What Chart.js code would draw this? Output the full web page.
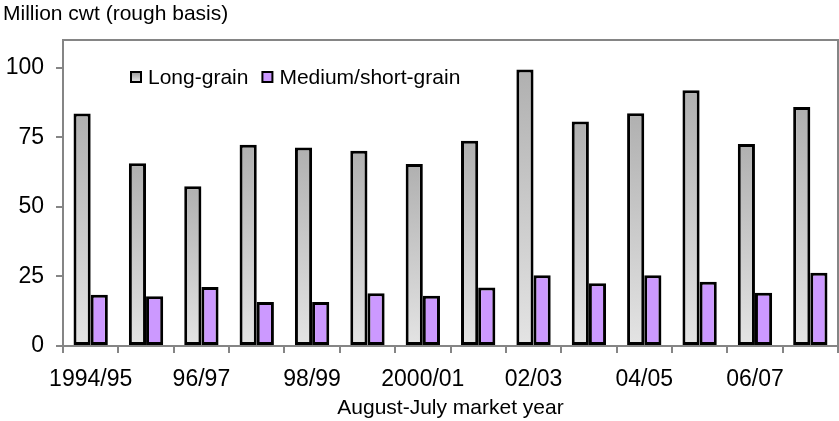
<!DOCTYPE html>
<html lang="en">
<head>
    <meta charset="UTF-8">
    <title>Rice use by class</title>
    <script src="https://cdn.jsdelivr.net/npm/chart.js"></script>
    <style>
        body { margin: 0; background: #fff; }
        canvas { display: block; }
    </style>
</head>
<body>

    <canvas id="riceChart" width="839" height="421"></canvas>

    <script>
        // Chart Data
        const years = ['1994/95', '95/96', '96/97', '97/98', '98/99', '99/2000', '2000/01',
                       '01/02', '02/03', '03/04', '04/05', '05/06', '06/07', '07/08'];
        const longGrain = [83.6, 65.7, 57.4, 72.3, 71.4, 70.2, 65.4, 73.8, 99.4, 80.7, 83.7, 91.9, 72.6, 85.9];
        const mediumGrain = [18.4, 17.9, 21.2, 15.8, 15.8, 19.0, 18.1, 21.0, 25.4, 22.6, 25.4, 23.1, 19.1, 26.3];
        const yTicks = [0, 25, 50, 75, 100];

        const font = 'Liberation Sans, Arial, sans-serif';
        const axisGray = '#858585';

        // gray gradient per bar, darker at the top
        function grayFill(c) {
            const chart = c.chart;
            const area = chart.chartArea;
            if (!area || !c.parsed) return '#c8c8c8';
            const top = chart.scales.y.getPixelForValue(c.parsed.y);
            const g = chart.ctx.createLinearGradient(0, top, 0, area.bottom);
            g.addColorStop(0, '#b0b0b0');
            g.addColorStop(1, '#e4e4e4');
            return g;
        }

        // frame, title and legend drawn on the canvas
        const extras = {
            id: 'extras',
            beforeDatasetsDraw(chart) {
                const { ctx, chartArea: a } = chart;
                ctx.save();
                ctx.strokeStyle = axisGray;
                ctx.lineWidth = 2;
                ctx.strokeRect(a.left, a.top, a.right - a.left, a.bottom - a.top);
                ctx.restore();
            },
            afterDraw(chart) {
                const { ctx } = chart;
                ctx.save();
                ctx.fillStyle = '#000';
                ctx.font = '21px ' + font;
                ctx.textBaseline = 'middle';
                ctx.textAlign = 'left';
                ctx.fillText('Million cwt (rough basis)', 3, 14);

                // legend
                let x = 131;
                const y = 77;
                chart.data.datasets.forEach((ds, i) => {
                    if (i === 0) {
                        const g = ctx.createLinearGradient(0, y - 5, 0, y + 6);
                        g.addColorStop(0, '#999');
                        g.addColorStop(1, '#eee');
                        ctx.fillStyle = g;
                    } else {
                        ctx.fillStyle = ds.legendColor;
                    }
                    ctx.fillRect(x, y - 5, 10, 10);
                    ctx.strokeStyle = '#000';
                    ctx.lineWidth = 2;
                    ctx.strokeRect(x, y - 5, 10, 10);
                    ctx.fillStyle = '#000';
                    ctx.font = '21px ' + font;
                    ctx.fillText(ds.label, x + 17, y + 1);
                    x += 17 + ctx.measureText(ds.label).width + 14;
                });
                ctx.restore();
            }
        };

        const ctx = document.getElementById('riceChart').getContext('2d');
        new Chart(ctx, {
            type: 'bar',
            data: {
                labels: years,
                datasets: [{
                    label: 'Long-grain',
                    data: longGrain,
                    backgroundColor: grayFill,
                    borderColor: '#000',
                    borderWidth: 3,
                    borderSkipped: false
                }, {
                    label: 'Medium/short-grain',
                    data: mediumGrain,
                    backgroundColor: '#cc99ff',
                    legendColor: '#cc99ff',
                    borderColor: '#000',
                    borderWidth: 3,
                    borderSkipped: false
                }]
            },
            options: {
                responsive: false,
                animation: false,
                layout: { padding: { top: 40, right: 1, left: 0, bottom: 0 } },
                datasets: {
                    bar: { categoryPercentage: 0.62, barPercentage: 1 }
                },
                plugins: {
                    legend: { display: false },
                    tooltip: { enabled: false }
                },
                scales: {
                    x: {
                        grid: { drawOnChartArea: false, tickLength: 7, color: axisGray, lineWidth: 2 },
                        border: { color: axisGray, width: 2 },
                        ticks: {
                            autoSkip: false,
                            maxRotation: 0,
                            padding: 13,
                            color: '#000',
                            font: { family: font, size: 23 },
                            callback: (v, i) => (i % 2 === 0 ? years[i] : '')
                        },
                        title: {
                            display: true,
                            text: 'August-July market year',
                            color: '#000',
                            font: { family: font, size: 21 },
                            padding: { top: 0, bottom: 0 }
                        },
                        afterFit: (s) => { s.height = 75; }
                    },
                    y: {
                        min: 0,
                        max: 110,
                        grid: { drawOnChartArea: false, tickLength: 7, color: axisGray, lineWidth: 2 },
                        border: { color: axisGray, width: 2 },
                        ticks: {
                            padding: 12,
                            color: '#000',
                            font: { family: font, size: 23 }
                        },
                        afterBuildTicks: (s) => { s.ticks = yTicks.map(v => ({ value: v })); },
                        afterFit: (s) => { s.width = 63; }
                    }
                }
            },
            plugins: [extras]
        });
    </script>

</body>
</html>
